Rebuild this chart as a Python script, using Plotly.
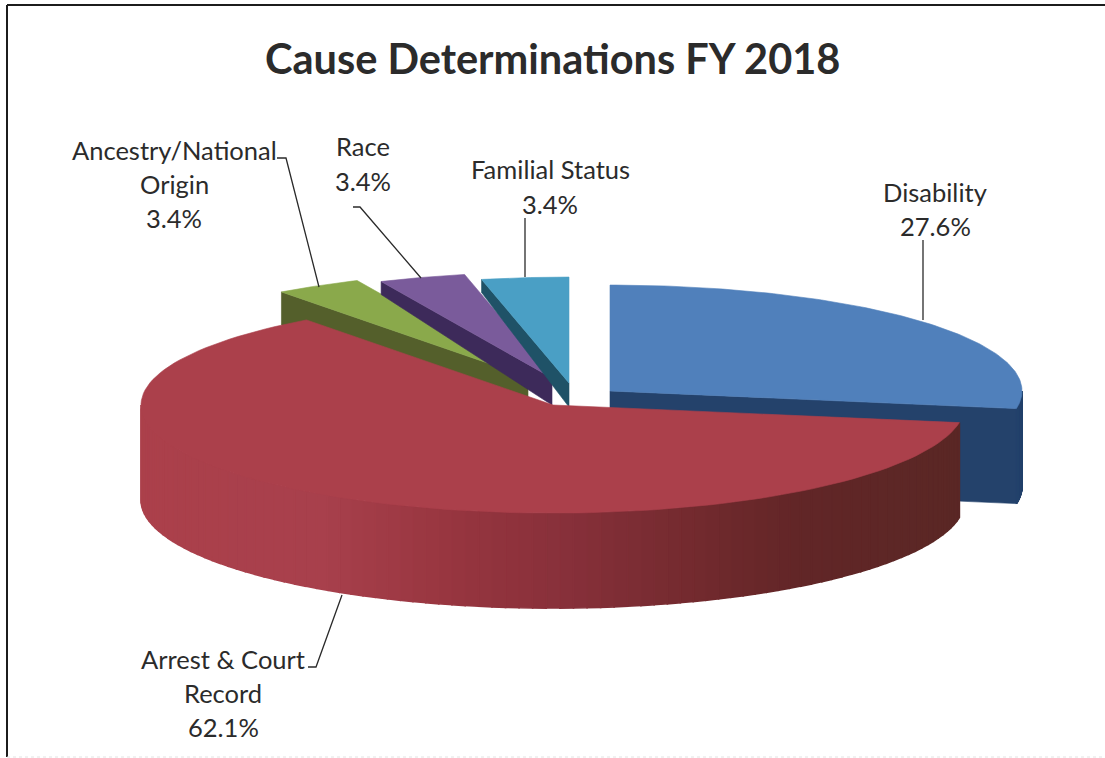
import numpy as np
import plotly.graph_objects as go

title = "Cause Determinations FY 2018"
categories = ["Disability", "Arrest & Court Record", "Ancestry/National Origin", "Race", "Familial Status"]
values = [27.6, 62.1, 3.4, 3.4, 3.4]

# label line breaks as in the source chart
label_lines = [["Disability"], ["Arrest & Court", "Record"], ["Ancestry/National", "Origin"], ["Race"], ["Familial Status"]]

# styling / layout of the pseudo-3D pie
top_colors = ["#5080bb", "#ab404b", "#8aa94b", "#7a5b9b", "#4a9fc5"]
wall_colors = ["#24426b", "#a8404b", "#545f2b", "#3d2a5a", "#1f5267"]
apex = [(610, 391), (553, 405), (528, 377), (552, 378), (569, 383)]
draw_order = [2, 3, 4, 0, 1]
RX, RY, PERSP, DEPTH = 412.0, 107.0, 0.01, 95.0
# visible radial cut wall per slice: (edge index 0/1, depth at rim, depth at apex)
cut_walls = [(1, 95, 95), None, (0, 33, 36), (0, 13, 27), (0, 13, 24)]
# left-to-right shading of the front wall of the large slice
shade_pos = [0.0, 0.22, 0.38, 0.52, 0.68, 0.80, 1.0]
shade_rgb = [(171, 64, 75), (168, 64, 76), (151, 53, 63), (135, 48, 58), (114, 42, 46), (98, 38, 39), (90, 39, 37)]

label_pos = [(935, [192]), (223, [659, 693]), (174, [150, 184]), (363, [146]), (550, [169])]
pct_y = [226, 727, 218, 181, 204]
leaders = [
    ([923, 923], [240, 320]),
    ([308, 316, 342], [667, 667, 595]),
    ([277, 286, 319], [158, 158, 287]),
    ([353, 360, 421], [207, 207, 278]),
    ([525, 525], [218, 277]),
]

total = sum(values)
edges = np.concatenate([[0.0], np.cumsum(values)]) / total * 2 * np.pi


def project(i, r, th, depth=0.0):
    th = np.asarray(th, dtype=float)
    s = 1.0 / (1.0 + PERSP * r * np.cos(th))
    x = apex[i][0] + RX * r * np.sin(th)
    y = apex[i][1] - RY * r * np.cos(th) * s
    return x, y + depth * DEPTH


def shade(frac):
    rgb = [np.interp(frac, shade_pos, [c[k] for c in shade_rgb]) for k in range(3)]
    return "rgb(%d,%d,%d)" % tuple(round(v) for v in rgb)


fig = go.Figure()


def poly(xs, ys, color, name, lw=0.6):
    fig.add_trace(go.Scatter(x=list(xs), y=list(ys), mode="lines", fill="toself", fillcolor=color,
                             line=dict(color=color, width=lw), hoverinfo="skip", showlegend=False, name=name))


for i in draw_order:
    a0, a1 = edges[i], edges[i + 1]
    name = categories[i]
    # rim wall, front half only, in strips for shading
    lo, hi = max(a0, np.pi / 2), min(a1, 3 * np.pi / 2)
    if hi > lo:
        steps = np.linspace(lo, hi, 91)
        for s0, s1 in zip(steps[:-1], steps[1:]):
            th = np.linspace(s0, s1, 4)
            xt, yt = project(i, 1.0, th)
            xb, yb = project(i, 1.0, th[::-1], 1.0)
            color = wall_colors[i]
            if i == 1:
                color = shade((xt.mean() - (apex[i][0] - RX)) / (1.985 * RX))
            poly(np.r_[xt, xb, xt[0]], np.r_[yt, yb, yt[0]], color, name, 1.6)
    # visible radial cut wall
    if cut_walls[i]:
        e, d_r, d_a = cut_walls[i]
        a = (a0, a1)[e]
        x_r, y_r = project(i, 1.0, a)
        x_c, y_c = project(i, 0.0, a)
        poly([x_c, x_r, x_r, x_c, x_c], [y_c, y_r, y_r + d_r, y_c + d_a, y_c], wall_colors[i], name)
    # top face
    th = np.linspace(a0, a1, 120)
    xt, yt = project(i, 1.0, th)
    poly(np.r_[apex[i][0], xt, apex[i][0]], np.r_[apex[i][1], yt, apex[i][1]], top_colors[i], name)

for lx, ly in leaders:
    fig.add_trace(go.Scatter(x=lx, y=ly, mode="lines", line=dict(color="#2a2a2a", width=1.3),
                             hoverinfo="skip", showlegend=False))

TXT = "#2b2b2b"
anns = [dict(x=552, y=58, text="<b>%s</b>" % title, showarrow=False, font=dict(family="Lato", size=41.5, color=TXT))]
for i, (lines, (cx, ys)) in enumerate(zip(label_lines, label_pos)):
    for line, y in zip(lines, ys):
        anns.append(dict(x=cx, y=y, text=line, showarrow=False, font=dict(family="Lato", size=25.5, color=TXT)))
    anns.append(dict(x=cx, y=pct_y[i], text="%.1f%%" % values[i], showarrow=False,
                     font=dict(family="Lato", size=25.5, color=TXT)))

frame = dict(type="line", xref="x", yref="y", line=dict(color="#1c1c1c", width=2))
shapes = [dict(frame, x0=7, x1=1105, y0=5, y1=5), dict(frame, x0=7, x1=7, y0=5, y1=757),
          dict(type="line", xref="x", yref="y", x0=7, x1=1105, y0=757, y1=757,
               line=dict(color="#e2e2e2", width=1, dash="dot"))]

fig.update_layout(
    width=1105, height=758, margin=dict(l=0, r=0, t=0, b=0), autosize=False,
    paper_bgcolor="white", plot_bgcolor="white", showlegend=False,
    xaxis=dict(range=[0, 1105], visible=False, fixedrange=True),
    yaxis=dict(range=[758, 0], visible=False, fixedrange=True),
    annotations=anns, shapes=shapes,
)
fig.write_html("out.html", config=dict(displayModeBar=False),
               post_script="document.body.style.margin='0';document.body.style.overflow='hidden';")
